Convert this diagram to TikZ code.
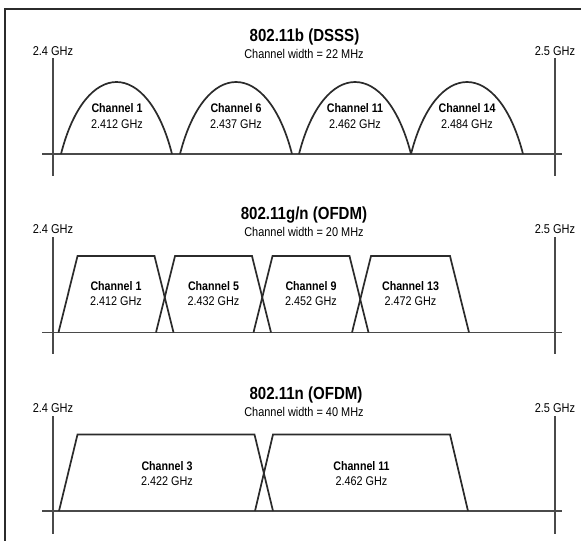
\documentclass[tikz,border=0pt]{standalone}
\usepackage{fontspec}
\setmainfont[FakeStretch=0.86]{Liberation Sans}
\definecolor{ink}{HTML}{2B2B2B}
\definecolor{axisgray}{HTML}{4A4A4A}
\newcommand\lobe[2]{%
  \draw[chan] (#1,154) .. controls ({#1+0.22*(#2-#1)},58) and ({#2-0.22*(#2-#1)},58) .. (#2,154);}
\newcommand\trap[5]{% center, bottom y, top y, bottom half, top half
  \draw[chan] ({#1-#4},#2) -- ({#1-#5},#3) -- ({#1+#5},#3) -- ({#1+#4},#2);}
\begin{document}
\begin{tikzpicture}[x=1pt,y=-1pt,
  chan/.style={draw=ink,line width=1.7pt,line join=miter},
  axisline/.style={draw=axisgray,line width=1.4pt},
  frameline/.style={draw=ink,line width=1.6pt},
  ttl/.style={anchor=base,inner sep=0pt,text=black,font=\fontsize{17.5}{20}\selectfont\bfseries},
  sub/.style={anchor=base,inner sep=0pt,text=black,font=\fontsize{12.7}{15}\selectfont},
  ghz/.style={anchor=base,inner sep=0pt,text=black,font=\fontsize{12.8}{15}\selectfont},
  chname/.style={anchor=base,inner sep=0pt,text=black,font=\fontsize{12.4}{15}\selectfont\bfseries},
  chfreq/.style={anchor=base,inner sep=0pt,text=black,font=\fontsize{12.6}{15}\selectfont}]
\useasboundingbox (0,0) rectangle (581,541);
\fill[white] (0,0) rectangle (581,541);
% frame
\draw[frameline] (581,9) -- (5,9) -- (5,541);

% ---------- Panel 1: 802.11b ----------
\node[ttl] (t1) at (304.5,41) {802.11b (DSSS)};
\node[sub] (s1) at (304,58.5) {Channel width = 22 MHz};
\node[ghz] (l1a) at (53,55.5) {2.4 GHz};
\node[ghz] (l1b) at (555,55.5) {2.5 GHz};
\coordinate (a1l) at (42,154); \coordinate (a1r) at (562,154);
\coordinate (v1lt) at (53,58); \coordinate (v1lb) at (53,176);
\coordinate (v1rt) at (555,58); \coordinate (v1rb) at (555,176);
\draw[axisline] (a1l) -- (a1r);
\draw[axisline] (v1lt) -- (v1lb);
\draw[axisline] (v1rt) -- (v1rb);
\lobe{61}{172}
\lobe{180}{292}
\lobe{299}{411}
\lobe{411}{523}
\node[chname] (b1n) at (117,112.5) {Channel 1};
\node[chfreq] (b1f) at (117,128.5) {2.412 GHz};
\node[chname] (b6n) at (236,112.5) {Channel 6};
\node[chfreq] (b6f) at (236,128.5) {2.437 GHz};
\node[chname] (b11n) at (355,112.5) {Channel 11};
\node[chfreq] (b11f) at (355,128.5) {2.462 GHz};
\node[chname] (b14n) at (467,112.5) {Channel 14};
\node[chfreq] (b14f) at (467,128.5) {2.484 GHz};

% ---------- Panel 2: 802.11g/n ----------
\node[ttl] (t2) at (304,219.5) {802.11g/n (OFDM)};
\node[sub] (s2) at (304,236.5) {Channel width = 20 MHz};
\node[ghz] (l2a) at (53,233) {2.4 GHz};
\node[ghz] (l2b) at (555,233) {2.5 GHz};
\coordinate (a2l) at (42,332.5); \coordinate (a2r) at (562,332.5);
\coordinate (v2lt) at (53,237); \coordinate (v2lb) at (53,354);
\coordinate (v2rt) at (555,237); \coordinate (v2rb) at (555,354);
\draw[axisline] (a2l) -- (a2r);
\draw[axisline] (v2lt) -- (v2lb);
\draw[axisline] (v2rt) -- (v2rb);
\trap{116}{332.5}{256}{57.5}{38.5}
\trap{213.5}{332.5}{256}{57.5}{38.5}
\trap{311}{332.5}{256}{57.5}{38.5}
\trap{410.5}{332.5}{256}{58.5}{39.5}
\node[chname] (g1n) at (116,290) {Channel 1};
\node[chfreq] (g1f) at (116,305.5) {2.412 GHz};
\node[chname] (g5n) at (213.5,290) {Channel 5};
\node[chfreq] (g5f) at (213.5,305.5) {2.432 GHz};
\node[chname] (g9n) at (311,290) {Channel 9};
\node[chfreq] (g9f) at (311,305.5) {2.452 GHz};
\node[chname] (g13n) at (410.5,290) {Channel 13};
\node[chfreq] (g13f) at (410.5,305.5) {2.472 GHz};

% ---------- Panel 3: 802.11n ----------
\node[ttl] (t3) at (306,399) {802.11n (OFDM)};
\node[sub] (s3) at (304,416) {Channel width = 40 MHz};
\node[ghz] (l3a) at (53,412) {2.4 GHz};
\node[ghz] (l3b) at (555,412) {2.5 GHz};
\coordinate (a3l) at (42,511); \coordinate (a3r) at (562,511);
\coordinate (v3lt) at (53,416); \coordinate (v3lb) at (53,534);
\coordinate (v3rt) at (555,416); \coordinate (v3rb) at (555,534);
\draw[axisline] (a3l) -- (a3r);
\draw[axisline] (v3lt) -- (v3lb);
\draw[axisline] (v3rt) -- (v3rb);
\trap{166}{511}{434.5}{107}{88.5}
\trap{361.5}{511}{434.5}{106.5}{88.5}
\node[chname] (n3n) at (167,470) {Channel 3};
\node[chfreq] (n3f) at (167,485) {2.422 GHz};
\node[chname] (n11n) at (361.5,470) {Channel 11};
\node[chfreq] (n11f) at (361.5,485) {2.462 GHz};
\end{tikzpicture}
\end{document}
